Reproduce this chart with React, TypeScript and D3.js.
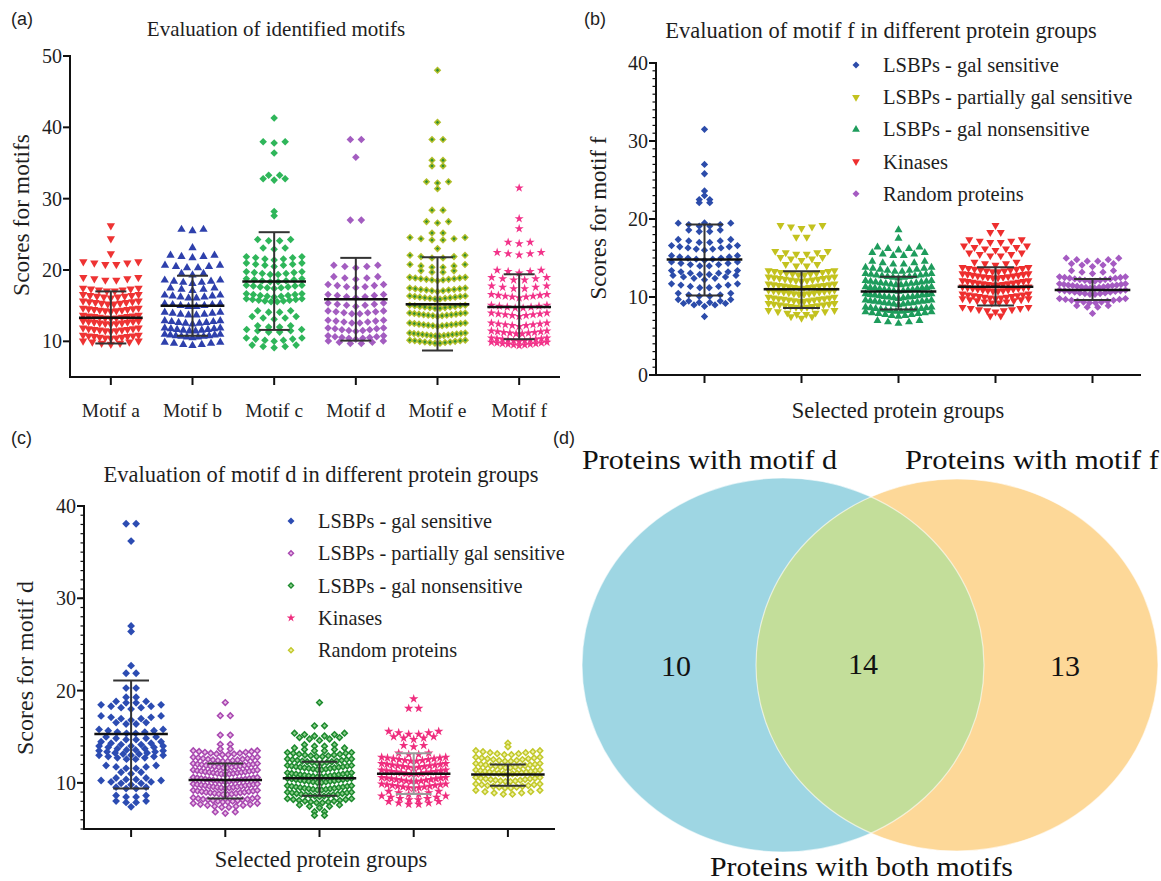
import * as d3 from "d3";

type Row = [number, number]; // [score, number of proteins at that score]

// ---------- panel (a): scores of the six motifs ----------
const motifLabels = ["Motif a", "Motif b", "Motif c", "Motif d", "Motif e", "Motif f"];
const motifA: Row[] = [[26.2, 1], [24.4, 1], [22.3, 1], [20.7, 6], [18.5, 6], [17, 8], [16.1, 9], [15.2, 10], [14.2, 11], [13.2, 11], [12.4, 11], [11.4, 11], [10.4, 11], [9.6, 7]];
const motifB: Row[] = [[25.5, 3], [23.1, 1], [21.7, 5], [20.2, 6], [19.3, 3], [18.1, 7], [17.1, 5], [16, 8], [14.8, 8], [13.6, 8], [12.4, 9], [11.4, 10], [10.5, 11], [9.4, 7]];
const motifC: Row[] = [[41.3, 1], [37.8, 3], [36.4, 1], [33.2, 2], [32.6, 3], [28.2, 1], [27.6, 1], [24, 4], [22.9, 3], [21.4, 7], [20.5, 7], [19.3, 8], [18.3, 8], [17.4, 9], [16.2, 9], [15.5, 10], [14, 4], [13.1, 5], [11.9, 4], [11.2, 6], [10, 7], [9.1, 5]];
const motifD: Row[] = [[38.2, 2], [35.8, 1], [26.9, 2], [20.3, 5], [18.7, 5], [17.5, 7], [16.1, 7], [14.9, 7], [13.8, 8], [12.5, 8], [11.4, 9], [10.3, 9], [9.6, 6]];
const motifE: Row[] = [[48, 1], [40.7, 1], [38.2, 2], [35.3, 2], [34.5, 2], [32.2, 3], [31.4, 1], [28.3, 2], [26.6, 3], [25.1, 2], [24.1, 6], [23, 1], [21.6, 6], [20.3, 6], [19.6, 4], [18.5, 11], [17, 11], [15.9, 12], [14.6, 12], [13.5, 13], [12.1, 13], [10.7, 14], [9.7, 12]];
const motifF: Row[] = [[31.5, 1], [27.2, 1], [25.8, 1], [23.7, 3], [22.1, 5], [19.6, 5], [18.5, 6], [17.3, 6], [16.1, 9], [14.6, 8], [13.5, 9], [12.1, 9], [11, 10], [10, 11], [9.4, 11]];
const motifMean = [13.3, 15.0, 18.4, 15.9, 15.2, 14.8];
const motifSdLow = [9.7, 10.8, 11.6, 10.1, 8.7, 10.3];
const motifSdHigh = [17.0, 19.2, 25.3, 21.7, 21.8, 19.4];
const motifTicks = [10, 20, 30, 40, 50];

// ---------- panel (b): motif f in protein groups ----------
const groupLabels = ["LSBPs - gal sensitive", "LSBPs - partially gal sensitive", "LSBPs - gal nonsensitive", "Kinases", "Random proteins"];
const fGal: Row[] = [[31.5, 1], [27, 1], [25.8, 1], [23.6, 1], [23, 1], [22.4, 2], [22, 2], [19.5, 1], [19, 6], [18.3, 4], [16.9, 6], [16, 9], [14.7, 9], [13.9, 8], [12.8, 8], [12.2, 7], [11.1, 8], [10, 6], [9.2, 6], [8.8, 5], [7.5, 1]];
const fPartial: Row[] = [[18.8, 5], [17.6, 2], [15.4, 6], [14.7, 5], [13.9, 4], [12.8, 12], [12, 13], [11.1, 14], [10.3, 14], [9.4, 14], [8.6, 13], [7.7, 8], [7.3, 3]];
const fNon: Row[] = [[18.6, 1], [17.5, 1], [16, 5], [15.2, 6], [14.1, 6], [13.2, 10], [12.4, 13], [11.5, 14], [10.7, 15], [9.8, 15], [9, 15], [8.1, 14], [7.5, 11], [6.6, 5]];
const fKinase: Row[] = [[19.2, 1], [18.2, 2], [16.9, 6], [16, 7], [15.2, 6], [14.1, 5], [13.2, 12], [12.4, 14], [11.5, 14], [10.7, 14], [9.8, 13], [9.2, 10], [8.1, 9], [7.5, 2]];
const fRandom: Row[] = [[14.5, 6], [13.9, 5], [13, 5], [12, 14], [11.1, 16], [10.3, 14], [9.2, 12], [8.6, 4], [7.9, 1]];
const fMean = [14.8, 11.0, 10.7, 11.3, 10.9];
const fSdLow = [10.2, 8.6, 8.4, 8.9, 9.6];
const fSdHigh = [19.3, 13.3, 12.6, 13.8, 12.3];
const fTicks = [0, 10, 20, 30, 40];

// ---------- panel (c): motif d in protein groups ----------
const dGal: Row[] = [[38, 2], [36.2, 1], [27, 1], [26.4, 1], [22.7, 1], [21.8, 2], [20.2, 2], [19.2, 2], [18.6, 4], [18, 7], [16.8, 7], [16.3, 4], [15.3, 8], [14.6, 6], [14, 7], [13.5, 8], [13, 9], [12.5, 8], [11.5, 6], [11, 3], [10.3, 4], [9.8, 7], [9.3, 4], [8.4, 4], [7.8, 4], [7.4, 1]];
const dPartial: Row[] = [[18.7, 1], [17.2, 2], [15.1, 2], [14.1, 2], [13.6, 2], [13, 12], [12.3, 14], [11.6, 16], [10.9, 17], [10.1, 17], [9.4, 17], [8.7, 16], [7.9, 14], [7.3, 10], [6.7, 3]];
const dNon: Row[] = [[18.7, 1], [16.1, 2], [15, 6], [14.6, 5], [13.9, 4], [13.4, 6], [12.8, 12], [12.1, 14], [11.4, 16], [10.6, 16], [10, 16], [9.2, 16], [8.5, 15], [7.8, 12], [7.3, 5], [6.8, 2], [6.4, 2]];
const dKinase: Row[] = [[19.1, 1], [18, 2], [15.2, 6], [14.7, 5], [13.9, 3], [13, 4], [12.3, 12], [11.6, 13], [10.9, 14], [10.1, 14], [9.4, 13], [8.7, 6], [8.1, 8], [7.6, 6]];
const dRandom: Row[] = [[14.3, 1], [13.9, 1], [13, 10], [12.3, 12], [11.6, 14], [10.9, 15], [10.1, 14], [9.4, 12], [8.7, 8]];
const dMean = [15.3, 10.3, 10.5, 11.0, 10.9];
const dSdLow = [9.4, 8.3, 8.6, 8.8, 9.7];
const dSdHigh = [21.1, 12.1, 12.3, 13.2, 12.0];
const dTicks = [10, 20, 30, 40];

// ---------- panel (d): venn counts ----------
const vennSets = ["Proteins with motif d", "Proteins with motif f"];
const vennCounts = [10, 14, 13];

type Shape = "diamond" | "triUp" | "triDown" | "star";
type Style = { shape: Shape; fill: string; inner?: string; light?: boolean };

const SERIF = "'Liberation Serif', 'Times New Roman', serif";
const SANS = "'Liberation Sans', Arial, sans-serif";
const INK = "#1e1e1e";

const symbolFor: Record<Shape, d3.SymbolType> = {
  diamond: d3.symbolSquare,
  triUp: d3.symbolTriangle,
  triDown: d3.symbolTriangle,
  star: d3.symbolStar,
};
const rotFor: Record<Shape, number> = { diamond: 45, triUp: 0, triDown: 180, star: 0 };

function Marker({ x, y, st, size }: { x: number; y: number; st: Style; size: number }) {
  const area = st.shape === "star" ? size * 0.85 : st.shape === "diamond" ? size * 0.95 : size;
  const p = d3.symbol(symbolFor[st.shape], area)() || "";
  const tr = `translate(${x},${y}) rotate(${rotFor[st.shape]})`;
  return (
    <g transform={tr}>
      <path d={p} fill={st.fill} />
      {st.inner && <path d={d3.symbol(symbolFor[st.shape], area * 0.2)() || ""} fill={st.inner} />}
    </g>
  );
}

type PanelProps = {
  x0: number;
  x1: number;
  yDomain: [number, number];
  yRange: [number, number];
  groups: Row[][];
  styles: Style[];
  mean: number[];
  lo: number[];
  hi: number[];
  ticks: number[];
  minor: boolean;
  size: number;
  spread: number;
  curv: number;
};

function Swarm(p: PanelProps) {
  const keys = p.groups.map((_, i) => String(i));
  const x = d3.scaleBand<string>().domain(keys).range([p.x0, p.x1]);
  const y = d3.scaleLinear().domain(p.yDomain).range(p.yRange);
  const bw = x.bandwidth();
  const maxW = bw * 0.68;
  const yBase = p.yRange[0];
  const minorTicks = p.minor ? d3.range(Math.ceil(p.yDomain[0]), p.yDomain[1] + 0.01, 1) : [];

  return (
    <g>
      {p.groups.map((rows, gi) => {
        const cx = (x(String(gi)) ?? 0) + bw / 2;
        const st = p.styles[gi];
        const pts: { px: number; py: number }[] = [];
        rows.forEach(([v, n]) => {
          const s = n > 1 ? Math.min(p.spread, maxW / (n - 1)) : 0;
          for (let i = 0; i < n; i++) {
            const dx = (i - (n - 1) / 2) * s;
            pts.push({ px: cx + dx, py: y(v) - p.curv * Math.abs(dx) });
          }
        });
        const barCol = st.light ? "#9a9a9a" : "#333";
        return (
          <g key={gi}>
            {pts.map((q, k) => (
              <Marker key={k} x={q.px} y={q.py} st={st} size={p.size} />
            ))}
            <line x1={cx} x2={cx} y1={y(p.lo[gi])} y2={y(p.hi[gi])} stroke={barCol} strokeWidth={2} />
            <line x1={cx - bw * 0.19} x2={cx + bw * 0.19} y1={y(p.lo[gi])} y2={y(p.lo[gi])} stroke={barCol} strokeWidth={2} />
            <line x1={cx - bw * 0.19} x2={cx + bw * 0.19} y1={y(p.hi[gi])} y2={y(p.hi[gi])} stroke={barCol} strokeWidth={2} />
            <line x1={cx - bw * 0.39} x2={cx + bw * 0.39} y1={y(p.mean[gi])} y2={y(p.mean[gi])} stroke="#111" strokeWidth={2.5} />
            <line x1={cx} x2={cx} y1={yBase} y2={yBase + 8} stroke="#111" strokeWidth={2} />
          </g>
        );
      })}
      {/* axes */}
      <line x1={p.x0} x2={p.x0} y1={p.yRange[1] - 1} y2={yBase + 1} stroke="#111" strokeWidth={2} />
      <line x1={p.x0 - 1} x2={p.x1} y1={yBase} y2={yBase} stroke="#111" strokeWidth={2} />
      {minorTicks.map((t) => (
        <line key={"m" + t} x1={p.x0 - 3.5} x2={p.x0} y1={y(t)} y2={y(t)} stroke="#111" strokeWidth={1.2} />
      ))}
      {p.ticks.map((t) => (
        <g key={t}>
          <line x1={p.x0 - 7} x2={p.x0} y1={y(t)} y2={y(t)} stroke="#111" strokeWidth={2} />
          <text x={p.x0 - 8} y={y(t) + 7} textAnchor="end" fontFamily={SERIF} fontSize={20} fill={INK}>
            {t}
          </text>
        </g>
      ))}
    </g>
  );
}

function Legend({ x, y0, step, styles, fs }: { x: number; y0: number; step: number; styles: Style[]; fs: number }) {
  return (
    <g>
      {groupLabels.map((lab, i) => (
        <g key={lab}>
          <Marker x={x} y={y0 + i * step} st={styles[i]} size={26} />
          <text x={x + 27} y={y0 + i * step + 7} fontFamily={SERIF} fontSize={fs} fill={INK}>
            {lab}
          </text>
        </g>
      ))}
    </g>
  );
}

const stylesA: Style[] = [
  { shape: "triDown", fill: "#EE3333" },
  { shape: "triUp", fill: "#2E40AC" },
  { shape: "diamond", fill: "#2FB65A" },
  { shape: "diamond", fill: "#A35DC0" },
  { shape: "diamond", fill: "#B2BE2A", inner: "#2F8F33" },
  { shape: "star", fill: "#F2338A" },
];
const stylesB: Style[] = [
  { shape: "diamond", fill: "#2C4CAA" },
  { shape: "triDown", fill: "#C3C21F" },
  { shape: "triUp", fill: "#1E9C5C" },
  { shape: "triDown", fill: "#EE2E2E" },
  { shape: "diamond", fill: "#A55BC2" },
];
const stylesC: Style[] = [
  { shape: "diamond", fill: "#2C4CB2" },
  { shape: "diamond", fill: "#A847B0", inner: "#E9BDE6" },
  { shape: "diamond", fill: "#1D8A2E", inner: "#8CCF8C" },
  { shape: "star", fill: "#EF2D7E", light: true },
  { shape: "diamond", fill: "#C2C82A", inner: "#EEF1A4" },
];

function Venn() {
  const L = { cx: 783, cy: 665, rx: 201, ry: 187 };
  const R = { cx: 957, cy: 665, rx: 201, ry: 186 };
  return (
    <g>
      <defs>
        <clipPath id="leftClip">
          <ellipse cx={L.cx} cy={L.cy} rx={L.rx} ry={L.ry} />
        </clipPath>
      </defs>
      <ellipse cx={L.cx} cy={L.cy} rx={L.rx} ry={L.ry} fill="#9ED6E3" />
      <ellipse cx={R.cx} cy={R.cy} rx={R.rx} ry={R.ry} fill="#FDD898" />
      <ellipse cx={R.cx} cy={R.cy} rx={R.rx} ry={R.ry} fill="#C3DE9A" clipPath="url(#leftClip)" />
      <ellipse cx={L.cx} cy={L.cy} rx={L.rx} ry={L.ry} fill="none" stroke="#fff" strokeOpacity={0.6} strokeWidth={1.2} />
      <ellipse cx={R.cx} cy={R.cy} rx={R.rx} ry={R.ry} fill="none" stroke="#fff" strokeOpacity={0.6} strokeWidth={1.2} />
      <text x={582} y={469} textLength={255} lengthAdjust="spacingAndGlyphs" fontFamily={SERIF} fontSize={28} fill="#111">{vennSets[0]}</text>
      <text x={905} y={469} textLength={254} lengthAdjust="spacingAndGlyphs" fontFamily={SERIF} fontSize={28} fill="#111">{vennSets[1]}</text>
      <text x={676} y={676} textAnchor="middle" fontFamily={SERIF} fontSize={30} fill="#111">{vennCounts[0]}</text>
      <text x={863} y={674} textAnchor="middle" fontFamily={SERIF} fontSize={30} fill="#111">{vennCounts[1]}</text>
      <text x={1065} y={676} textAnchor="middle" fontFamily={SERIF} fontSize={30} fill="#111">{vennCounts[2]}</text>
      <text x={710} y={876} textLength={303} lengthAdjust="spacingAndGlyphs" fontFamily={SERIF} fontSize={27} fill="#111">Proteins with both motifs</text>
    </g>
  );
}

export default function App() {
  const aBand = d3.scaleBand<string>().domain(motifLabels).range([70, 560]);
  return (
    <svg width={1161} height={881} style={{ position: "absolute", left: 0, top: 0, background: "#fff" }}>
      {/* (a) */}
      <text x={11} y={25} fontFamily={SANS} fontSize={18} fill={INK}>(a)</text>
      <text x={276} y={36} textAnchor="middle" fontFamily={SERIF} fontSize={21} fill={INK}>Evaluation of identified motifs</text>
      <text transform="translate(29,215) rotate(-90)" textAnchor="middle" fontFamily={SERIF} fontSize={23.5} fill={INK}>Scores for motifs</text>
      <Swarm x0={70} x1={560} yDomain={[5, 50]} yRange={[377, 56]} groups={[motifA, motifB, motifC, motifD, motifE, motifF]}
        styles={stylesA} mean={motifMean} lo={motifSdLow} hi={motifSdHigh} ticks={motifTicks} minor={false} size={30} spread={11} curv={0.12} />
      {motifLabels.map((m) => (
        <text key={m} x={(aBand(m) ?? 0) + aBand.bandwidth() / 2} y={417} textAnchor="middle" fontFamily={SERIF} fontSize={19.5} fill={INK}>{m}</text>
      ))}

      {/* (b) */}
      <text x={584} y={25} fontFamily={SANS} fontSize={18} fill={INK}>(b)</text>
      <text x={881} y={38} textAnchor="middle" fontFamily={SERIF} fontSize={22.5} fill={INK}>Evaluation of motif f in different protein groups</text>
      <text transform="translate(606,218) rotate(-90)" textAnchor="middle" fontFamily={SERIF} fontSize={23} fill={INK}>Scores for motif f</text>
      <Swarm x0={656} x1={1141} yDomain={[0, 40]} yRange={[375, 63]} groups={[fGal, fPartial, fNon, fKinase, fRandom]}
        styles={stylesB} mean={fMean} lo={fSdLow} hi={fSdHigh} ticks={fTicks} minor={true} size={28} spread={10.5} curv={0.14} />
      <Legend x={856} y0={65} step={32.2} styles={stylesB} fs={20.5} />
      <text x={898} y={418} textAnchor="middle" fontFamily={SERIF} fontSize={22.5} fill={INK}>Selected protein groups</text>

      {/* (c) */}
      <text x={11} y={444} fontFamily={SANS} fontSize={18} fill={INK}>(c)</text>
      <text x={321} y={482} textAnchor="middle" fontFamily={SERIF} fontSize={22.5} fill={INK}>Evaluation of motif d in different protein groups</text>
      <text transform="translate(33,668) rotate(-90)" textAnchor="middle" fontFamily={SERIF} fontSize={24} fill={INK}>Scores for motif d</text>
      <Swarm x0={84} x1={555} yDomain={[5, 40]} yRange={[829, 506]} groups={[dGal, dPartial, dNon, dKinase, dRandom]}
        styles={stylesC} mean={dMean} lo={dSdLow} hi={dSdHigh} ticks={dTicks} minor={true} size={32} spread={10} curv={0.14} />
      <Legend x={291} y0={521} step={32.3} styles={stylesC} fs={20.3} />
      <text x={321} y={867} textAnchor="middle" fontFamily={SERIF} fontSize={22.5} fill={INK}>Selected protein groups</text>

      {/* (d) */}
      <text x={553} y={444} fontFamily={SANS} fontSize={18} fill={INK}>(d)</text>
      <Venn />
    </svg>
  );
}
